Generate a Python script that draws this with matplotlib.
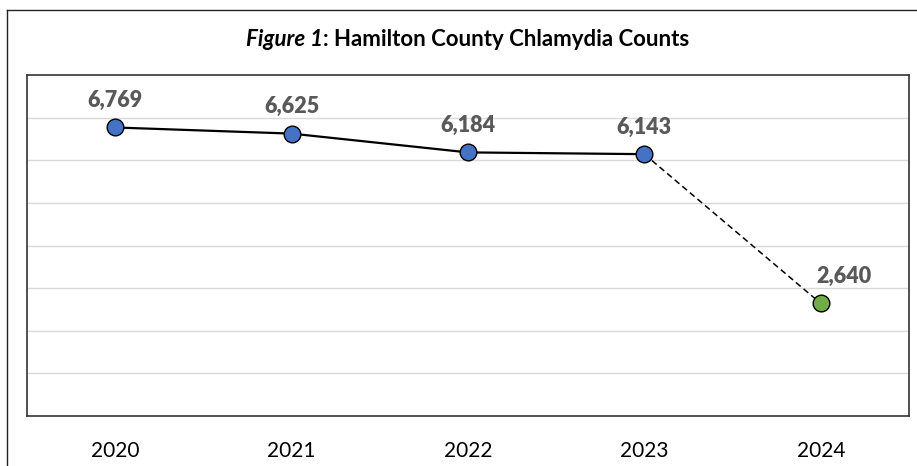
import matplotlib.pyplot as plt
from matplotlib.lines import Line2D

# Chlamydia counts by year (2024 shown as a separate, dashed segment)
years = ["2020", "2021", "2022", "2023", "2024"]
counts = [6769, 6625, 6184, 6143, 2640]
point_colors = ["#4472C4", "#4472C4", "#4472C4", "#4472C4", "#70AD47"]

W, H = 917, 466
fig = plt.figure(figsize=(W / 100, H / 100), dpi=100)
plt.rcParams["font.family"] = ["Lato", "DejaVu Sans"]

# outer chart border (left and top visible, rest is cropped)
fig.add_artist(Line2D([7 / W, 7 / W], [0, 1 - 10 / H], color="#222222", lw=1.0))
fig.add_artist(Line2D([7 / W, 916 / W], [1 - 10 / H, 1 - 10 / H], color="#222222", lw=1.0))

ax = fig.add_axes([27 / W, 50 / H, 882 / W, 341 / H])
x = list(range(len(years)))

ax.plot(x[:4], counts[:4], color="black", lw=1.6, zorder=2)
ax.plot(x[3:], counts[3:], color="black", lw=1.1, ls=(0, (4, 2.5)), zorder=2)
for xi, c, col in zip(x, counts, point_colors):
    ax.plot(xi, c, marker="o", ms=12, mfc=col, mec="black", mew=1.0, zorder=3)

for i, (xi, c) in enumerate(zip(x, counts)):
    dx = 17 if i == len(x) - 1 else 0
    ax.annotate(f"{c:,}", (xi, c), xytext=(dx, 19.5), textcoords="offset points",
                ha="center", va="center", fontsize=15.5, fontweight="heavy",
                color="#595959")

ax.set_xlim(-0.5, len(years) - 0.5)
ax.set_ylim(0, 8000)
ax.set_yticks(range(1000, 8000, 1000))
ax.set_yticklabels([])
ax.tick_params(axis="y", length=0)
ax.grid(axis="y", color="#D9D9D9", lw=1.0)
ax.set_axisbelow(True)
ax.set_xticks(x)
ax.set_xticklabels(years, fontsize=15, color="black")
ax.tick_params(axis="x", length=0, pad=18)
for s in ax.spines.values():
    s.set_color("#333333")
    s.set_linewidth(1.2)

t1 = fig.text(0, 0, "Figure 1", fontsize=16, fontweight="bold", style="italic")
t2 = fig.text(0, 0, ": Hamilton County Chlamydia Counts", fontsize=16, fontweight="bold")
# center the two-part title over the plot
fig.canvas.draw()
r = fig.canvas.get_renderer()
w1 = t1.get_window_extent(r).width
w2 = t2.get_window_extent(r).width
left = 468 - (w1 + w2) / 2
t1.set_position((left / W, 1 - 40 / H))
t2.set_position(((left + w1) / W, 1 - 40 / H))
t1.set_va("center")
t2.set_va("center")

fig.savefig("out.png", dpi=100)
